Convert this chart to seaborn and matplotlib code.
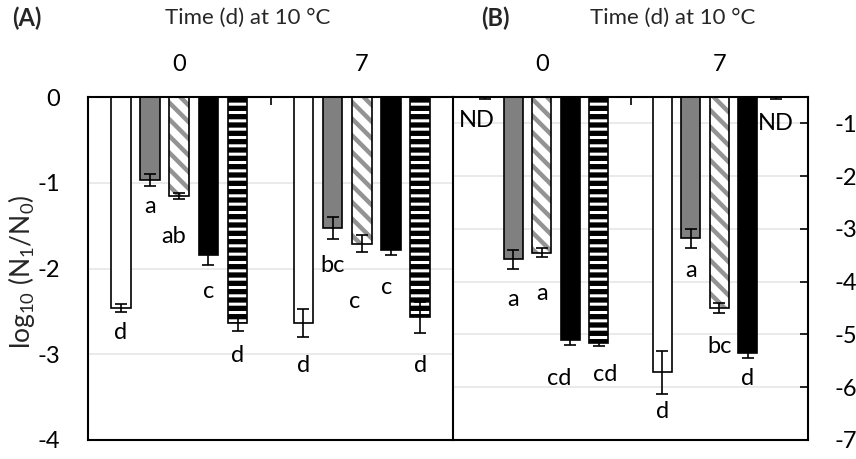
import matplotlib
matplotlib.use("Agg")
import matplotlib.pyplot as plt
import seaborn as sns
import pandas as pd
from matplotlib.patches import Rectangle

# categories
days = ["0", "7"]
treatments = ["T1", "T2", "T3", "T4", "T5"]

# panel A: mean log10(N1/N0) per treatment, [day 0, day 7]
a_mean = [[-2.46, -2.64], [-0.97, -1.53], [-1.155, -1.71], [-1.84, -1.78], [-2.64, -2.57]]
a_err = [[0.045, 0.163], [0.07, 0.13], [0.04, 0.097], [0.125, 0.066], [0.09, 0.185]]
a_letters = [["d", "d"], ["a", "bc"], ["ab", "c"], ["c", "c"], ["d", "d"]]

# panel B (ND = not detected, drawn at the axis top)
b_mean = [[-0.5, -5.72], [-3.575, -3.18], [-3.45, -4.5], [-5.1, -5.35], [-5.16, -0.5]]
b_err = [[0.03, 0.4], [0.18, 0.18], [0.09, 0.094], [0.095, 0.1], [0.05, 0.03]]
b_letters = [["ND", "d"], ["a", "a"], ["a", "bc"], ["cd", "d"], ["cd", "ND"]]

# where the letters sit (data y) and their sideways nudge (points)
a_label_y = [[-2.75, -3.13], [-1.28, -1.97], [-1.63, -2.39], [-2.27, -2.22], [-3.01, -3.13]]
a_label_dx = [[0, 0], [0, 0], [-4, -5], [0, -3], [0, 0]]
b_label_y = [[-0.95, -6.46], [-4.33, -3.78], [-4.22, -5.22], [-5.84, -5.84], [-5.75, -1.0]]
b_label_dx = [[-6, 0], [0, 0], [0, 0], [-8, 0], [5, 0]]

# bar looks: facecolor, hatch, hatch colour, hatch width
styles = [
    ("white", None, None, None),
    ("#808080", None, None, None),
    ("white", "\\\\", "#939393", 3.2),
    ("black", None, None, None),
    ("black", "--", "white", 2.2),
]

sns.set_theme(style="white")
plt.rcParams["font.family"] = ["Lato", "DejaVu Sans"]
plt.rcParams["axes.unicode_minus"] = False
plt.rcParams["hatch.linewidth"] = 2.8
FS = 17


def draw_panel(ax, means, errs, letters, label_y, label_dx):
    rows = []
    for j, t in enumerate(treatments):
        for i, d in enumerate(days):
            rows.append({"day": d, "treatment": t, "value": means[j][i]})
    df = pd.DataFrame(rows)
    sns.barplot(data=df, x="day", y="value", hue="treatment", order=days,
                hue_order=treatments, width=0.8, gap=0.33, errorbar=None,
                legend=False, ax=ax)

    bar_sets = list(ax.containers)
    for j, cont in enumerate(bar_sets):
        face, hatch, hcol, hlw = styles[j]
        for i, bar in enumerate(cont):
            bar.set_facecolor(face)
            if hatch:
                bar.set_edgecolor(hcol)
                bar.set_linewidth(0)
                bar.set_hatch(hatch)
                if hasattr(bar, "set_hatch_linewidth"):
                    bar.set_hatch_linewidth(hlw)
                ax.add_patch(Rectangle((bar.get_x(), bar.get_y()), bar.get_width(),
                                       bar.get_height(), fill=False,
                                       edgecolor="black", lw=1.2, zorder=3))
            else:
                bar.set_edgecolor("black")
                bar.set_linewidth(1.2)
            xc = bar.get_x() + bar.get_width() / 2
            ax.errorbar(xc, means[j][i], yerr=errs[j][i], fmt="none",
                        ecolor="black", elinewidth=1.2, capsize=4, capthick=1.2,
                        zorder=5)
            ax.annotate(letters[j][i], (xc, label_y[j][i]),
                        xytext=(label_dx[j][i], 0), textcoords="offset points",
                        ha="center", va="center", fontsize=FS, color="black")

    ax.set_xlim(-0.5, 1.5)
    ax.set_xlabel("")
    ax.set_ylabel("")
    ax.xaxis.tick_top()
    ax.tick_params(axis="x", which="major", length=0, pad=16, labelsize=FS,
                   colors="black")
    ax.set_xticks([0.5], minor=True)
    ax.tick_params(axis="x", which="minor", direction="in", length=6, width=1.2,
                   top=True, bottom=False, color="black")
    ax.yaxis.grid(True, color="#e8e8e8", lw=1.3)
    ax.set_axisbelow(True)
    for s in ax.spines.values():
        s.set_color("black")
        s.set_linewidth(1.5)


fig = plt.figure(figsize=(8.56, 4.59), dpi=100)
ax_a = fig.add_axes([88 / 856, 19 / 459, 365 / 856, 343 / 459])
ax_b = fig.add_axes([453 / 856, 19 / 459, 355 / 856, 343 / 459])

draw_panel(ax_a, a_mean, a_err, a_letters, a_label_y, a_label_dx)
ax_a.set_ylim(-4, 0)
ax_a.set_yticks([0, -1, -2, -3, -4])
ax_a.tick_params(axis="y", direction="in", length=6, width=1.2, labelsize=FS,
                 pad=20, colors="black")
ax_a.spines["right"].set_visible(False)

draw_panel(ax_b, b_mean, b_err, b_letters, b_label_y, b_label_dx)
ax_b.set_ylim(-7, -0.5)
ax_b.set_yticks([-1, -2, -3, -4, -5, -6, -7])
ax_b.yaxis.tick_right()
ax_b.tick_params(axis="y", direction="in", length=6, width=1.2, labelsize=FS,
                 pad=19, colors="black", right=True, left=False,
                 labelright=True, labelleft=False)

fig.text(22 / 856, 1 - 272 / 459,
         r"log$_{\mathregular{10}}$ (N$_{\mathregular{1}}$/N$_{\mathregular{0}}$)",
         rotation=90, ha="center", va="center", fontsize=19)
fig.text(248 / 856, 1 - 18 / 459, "Time (d) at 10 °C", ha="center",
         va="center", fontsize=16)
fig.text(673 / 856, 1 - 18 / 459, "Time (d) at 10 °C", ha="center",
         va="center", fontsize=16)
fig.text(27 / 856, 1 - 18 / 459, "(A)", ha="center", va="center",
         fontsize=17, fontweight="bold")
fig.text(495 / 856, 1 - 18 / 459, "(B)", ha="center", va="center",
         fontsize=17, fontweight="bold")

fig.savefig("out.png", dpi=100)
